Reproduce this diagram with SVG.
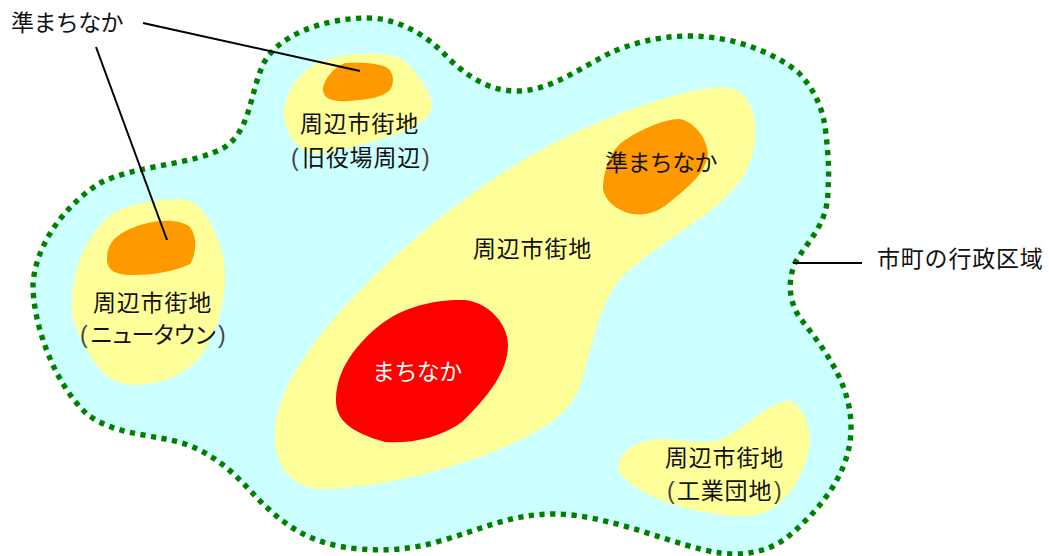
<svg xmlns="http://www.w3.org/2000/svg" width="1049" height="556" viewBox="0 0 1049 556">
<style>
.city{fill:#ccffff;stroke:#008000;stroke-width:5.4;stroke-dasharray:5.2 5.5}
.sub{fill:#ffff99}.semi{fill:#ff9900}.core{fill:#ff0000}
.lead{fill:none;stroke:#000;stroke-width:2}
text{font-family:"Noto Sans CJK JP","Liberation Sans",sans-serif;font-size:23px;fill:#111;letter-spacing:.8px}
.k{letter-spacing:-.6px}
.kt{letter-spacing:-2.2px}
.w{fill:#fff}
.p{font-family:"Liberation Sans",sans-serif;fill:#444}
</style>
<g id="city-boundary"><path class="city" d="M367 18C395 18 425 32 450 60C470 78 490 91 517 91C550 91 580 68 610 53C630 44 658 36 688 36C730 36 770 50 798 72C815 90 824 110 826 135C829 160 829 175 828 190C828 225 808 240 795 263C788 280 788 300 800 318C825 350 852 385 851 430C850 470 825 505 790 535C770 552 745 556 720 553C680 548 610 514 554 514C510 514 480 530 440 541C410 550 385 551 360 549C310 545 285 525 262 503C240 480 220 456 185 444C155 434 115 436 87 414C55 385 33 325 33 285C35 245 65 205 100 183C135 165 195 165 225 147C250 130 250 95 262 67C275 35 325 18 367 18Z"/></g>
<g id="sub-newtown"><path class="sub" d="M72 306C72 270 85 235 113 213C135 202 160 199 183 199C205 203 215 230 223 255C229 285 222 320 205 350C190 375 160 385 133 385C105 383 95 365 83 343C76 330 72 320 72 306Z"/></g>
<g id="semi-newtown"><path class="semi" d="M107 257C108 240 120 232 140 225C160 219 180 219 190 227C198 238 196 255 190 264C175 272 150 275 133 275C115 275 106 270 107 257Z"/></g>
<g id="sub-oldoffice"><path class="sub" d="M284 113C285 90 300 72 320 62C345 52 385 50 403 60C420 75 432 95 432 107C428 125 405 132 367 143C340 150 320 155 310 153C295 148 284 130 284 113Z"/></g>
<g id="semi-oldoffice"><path class="semi" d="M323 88C325 78 333 68 345 63C360 62 378 63 386 67C394 72 395 82 390 90C382 97 372 99 350 101C335 102 322 100 323 88Z"/></g>
<g id="sub-main"><path class="sub" d="M275 430C277 385 320 330 370 280C420 230 490 175 560 140C620 110 690 87 725 87C750 90 757 115 755 140C752 165 745 178 725 198C700 222 650 250 623 276C600 300 594 340 582 380C572 415 540 432 500 449C450 470 375 489 320 489C290 487 273 465 275 430Z"/></g>
<g id="semi-main"><path class="semi" d="M603 185C605 168 610 150 625 140C645 127 665 119 680 119C695 122 708 140 708 155C705 175 685 190 665 206C650 216 635 216 625 212C610 206 602 195 603 185Z"/></g>
<g id="core"><path class="core" d="M336 398C337 370 355 345 380 325C405 305 440 299 465 300C490 303 508 325 508 345C508 370 490 395 462 422C440 438 410 444 385 442C350 432 335 420 336 398Z"/></g>
<g id="sub-industrial"><path class="sub" d="M618 466C620 450 640 440 658 439C680 439 700 445 720 440C745 428 770 402 788 401C802 403 810 425 810 440C808 465 795 490 780 503C768 515 750 517 735 516C700 513 665 505 642 491C628 482 618 475 618 466Z"/></g>
<g id="connectors">
<line class="lead" x1="143" y1="23" x2="360" y2="71"/>
<line class="lead" x1="96" y1="47" x2="167" y2="240"/>
<line class="lead" x1="793" y1="263" x2="862" y2="263"/>
</g>
<g id="labels">
<text class="k" x="11" y="31">準まちなか</text>
<text x="300" y="132">周辺市街地</text>
<text y="166"><tspan class="p" x="291">(</tspan><tspan x="302">旧役場周辺</tspan><tspan class="p" x="422">)</tspan></text>
<text class="k" x="605" y="171">準まちなか</text>
<text x="473" y="257">周辺市街地</text>
<text x="93" y="311">周辺市街地</text>
<text y="343"><tspan class="p" x="80">(</tspan><tspan class="kt" x="90">ニュータウン</tspan><tspan class="p" x="218">)</tspan></text>
<text class="k w" x="372" y="380">まちなか</text>
<text x="665" y="466">周辺市街地</text>
<text y="499"><tspan class="p" x="667">(</tspan><tspan x="677">工業団地</tspan><tspan class="p" x="774">)</tspan></text>
<text x="877" y="267">市町の行政区域</text>
</g>
</svg>
